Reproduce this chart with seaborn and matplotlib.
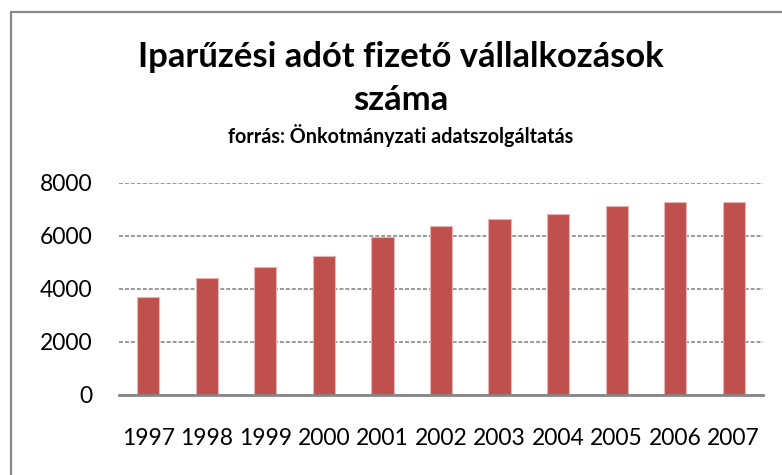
import matplotlib
matplotlib.use("Agg")
import matplotlib.pyplot as plt
from matplotlib.lines import Line2D
import seaborn as sns
import pandas as pd

years = ["1997", "1998", "1999", "2000", "2001", "2002", "2003", "2004", "2005", "2006", "2007"]
counts = [3675, 4390, 4820, 5245, 5950, 6375, 6640, 6820, 7120, 7260, 7285]
yticks = [0, 2000, 4000, 6000, 8000]
title_lines = ["Iparűzési adót fizető vállalkozások", "száma"]
subtitle = "forrás: Önkotmányzati adatszolgáltatás"

sns.set_theme(style="white")
plt.rcParams['font.family'] = ['Lato', 'DejaVu Sans']

df = pd.DataFrame({"year": years, "count": counts})

fig = plt.figure(figsize=(7.82, 4.75), dpi=100)
ax = fig.add_axes([119/782, 1 - 394.7/475, (763 - 119)/782, (394.7 - 182.7)/475])

sns.barplot(data=df, x="year", y="count", color="#C0504D", saturation=1,
            width=0.38, edgecolor="#E8B4B3", linewidth=0.8, ax=ax, zorder=3)

ax.set_ylim(0, 8000)
ax.set_xlim(-0.5, len(years) - 0.5)
ax.set_yticks(yticks)
ax.set_yticklabels([str(v) for v in yticks])
ax.set_xlabel("")
ax.set_ylabel("")
ax.yaxis.grid(True, linestyle=(0, (2.6, 1.3)), color="#7F7F7F", linewidth=1.1, zorder=0)
ax.xaxis.grid(False)
ax.set_axisbelow(True)
for s in ["top", "right", "left"]:
    ax.spines[s].set_visible(False)
ax.spines["bottom"].set_color("#868686")
ax.spines["bottom"].set_linewidth(2)
ax.spines["bottom"].set_zorder(4)
ax.tick_params(axis="y", length=0, pad=19, labelsize=16.5, labelcolor="black")
ax.tick_params(axis="x", length=0, pad=24, labelsize=16.5, labelcolor="black")

fig.text(401/782, 1 - 67/475, title_lines[0], ha="center", va="baseline",
         fontsize=24.9, fontweight="bold", color="black")
fig.text(401/782, 1 - 110/475, title_lines[1], ha="center", va="baseline",
         fontsize=24.9, fontweight="bold", color="black")
fig.text(401/782, 1 - 143/475, subtitle, ha="center", va="baseline",
         fontsize=14.2, fontweight="bold", color="black")

# outer chart frame (left and top visible)
fig.add_artist(Line2D([11/782, 11/782], [0, 1 - 12/475], color="#888888", linewidth=1.6,
                      transform=fig.transFigure))
fig.add_artist(Line2D([11/782, 1], [1 - 12/475, 1 - 12/475], color="#888888", linewidth=1.6,
                      transform=fig.transFigure))

fig.savefig("out.png", dpi=100, facecolor="white")
